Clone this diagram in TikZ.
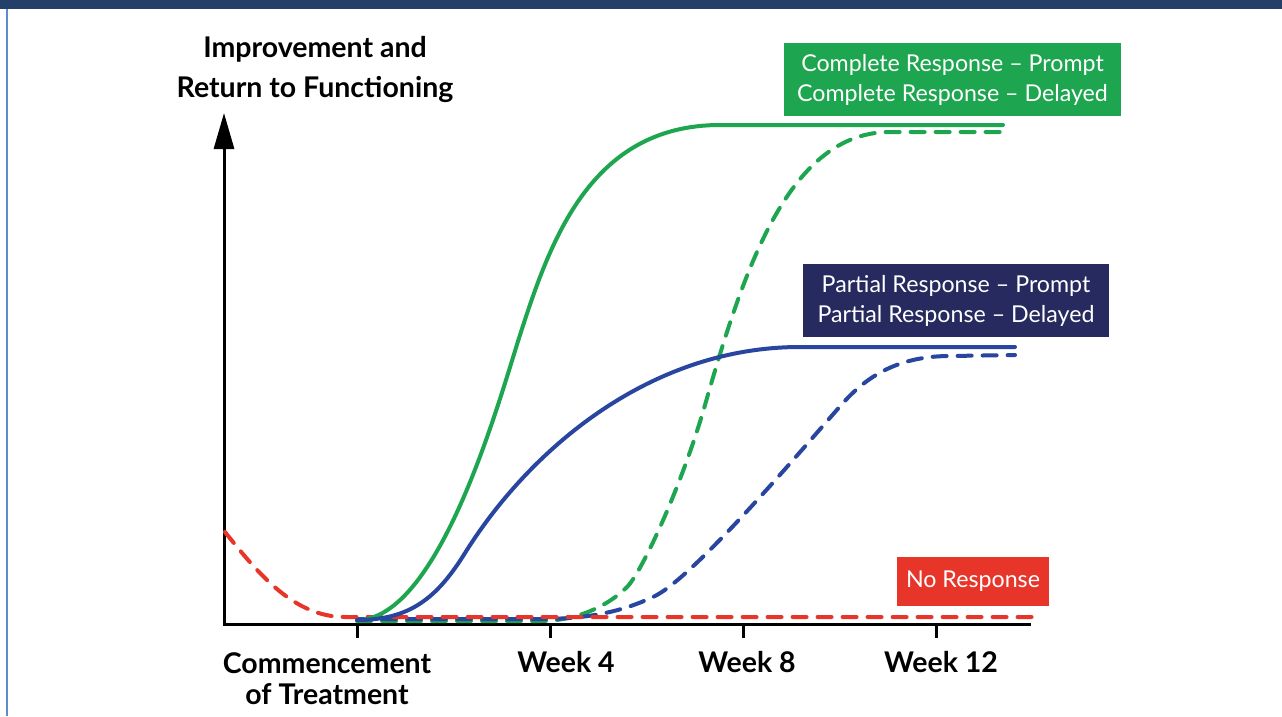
\documentclass[tikz,border=0pt]{standalone}
\usepackage{fontspec}
\setmainfont{Lato}
\usetikzlibrary{arrows.meta}
\definecolor{barnavy}{HTML}{243F68}
\definecolor{edgeblue}{HTML}{5D8BCB}
\definecolor{cgreen}{HTML}{1DA64F}
\definecolor{cnavy}{HTML}{262A5E}
\definecolor{cblue}{HTML}{2845A0}
\definecolor{cred}{HTML}{E8352A}
\tikzset{
  axisline/.style={line width=3pt, black},
  tickline/.style={line width=3pt, black},
  curve/.style={line width=4pt, line cap=round, line join=round},
  dashcurve/.style={curve, dash pattern=on 14pt off 11pt},
  axislabel/.style={font=\bfseries\fontsize{28.5}{32}\selectfont, anchor=base, inner sep=0pt},
  boxlabel/.style={font=\fontsize{23.2}{30}\selectfont, text=white, align=center, inner sep=0pt, anchor=center},
}
\begin{document}
\begin{tikzpicture}[x=1pt,y=-1pt]
\useasboundingbox (0,0) rectangle (1282,716);
\fill[white] (0,0) rectangle (1282,716);
% frame
\fill[barnavy] (0,0) rectangle (1282,9);
\fill[edgeblue] (6,9) rectangle (8,716);

% axes
\coordinate (o) at (224,624);
\coordinate (ytop) at (224,113);
\coordinate (xend) at (1031,624);
\draw[axisline, -{Triangle[width=20pt,length=36pt]}] (224,625.5) -- (ytop);
\draw[axisline] (222.5,624) -- (xend);
\foreach \x/\n in {357/t0,550/t4,743/t8,936/t12}{
  \coordinate (\n) at (\x,624);
  \draw[tickline] (\n) -- ++(0,14);
}

% labels
\node[axislabel] (yl1) at (315,57) {Improvement and};
\node[axislabel] (yl2) at (315,97) {Return to Functioning};
\node[axislabel] (xl0a) at (327,673) {Commencement};
\node[axislabel] (xl0b) at (327,704) {of Treatment};
\node[axislabel] (xl4) at (566,672) {Week 4};
\node[axislabel] (xl8) at (747,672) {Week 8};
\node[axislabel] (xl12) at (941,672) {Week 12};

% curves
% complete response - delayed
\draw[dashcurve, cgreen] (357,621) -- (540,621)
  .. controls (575,621) and (607,607) .. (627,587)
  .. controls (642,572) and (682,485) .. (705,405)
  .. controls (745,265) and (790,132) .. (890,132)
  -- (1003,132);
% partial response - delayed
\draw[dashcurve, cblue] (357,619) -- (540,619)
  .. controls (590,619) and (623,611) .. (653,597)
  .. controls (693,579) and (803,448) .. (843,403)
  .. controls (868,375) and (900,356) .. (950,356)
  -- (1015,355);
% no response
\draw[dashcurve, cred] (225,532) .. controls (260,576) and (295,617) .. (345,617) -- (1032,617);
% complete response - prompt
\draw[curve, cgreen] (357,620)
  .. controls (440,620) and (500,397) .. (520,335)
  .. controls (550,242) and (590,125) .. (720,125)
  -- (1003,125);
% partial response - prompt
\draw[curve, cblue] (357,620)
  .. controls (410,620) and (437,598) .. (465,553)
  .. controls (530,449) and (650,347) .. (800,347)
  -- (1015,347);

% legend boxes
\node[boxlabel, fill=cgreen, minimum width=337pt, minimum height=73pt] (cbox) at (952.5,79.5) {Complete Response -- Prompt\\Complete Response -- Delayed};
\node[boxlabel, fill=cnavy, minimum width=306pt, minimum height=73pt] (pbox) at (956,300.5) {Partial Response -- Prompt\\Partial Response -- Delayed};
\node[boxlabel, fill=cred, minimum width=152pt, minimum height=49pt] (nbox) at (973,581.5) {No Response};
\end{tikzpicture}
\end{document}
